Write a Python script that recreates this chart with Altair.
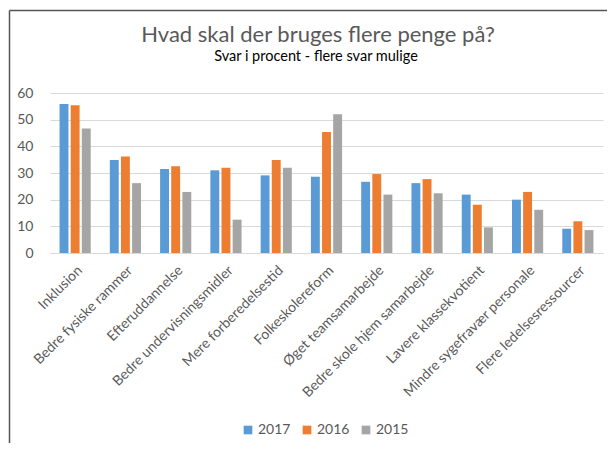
import altair as alt
import pandas as pd

categories = ["Inklusion", "Bedre fysiske rammer", "Efteruddannelse", "Bedre undervisningsmidler",
              "Mere forberedelsestid", "Folkeskolereform", "Øget teamsamarbejde",
              "Bedre skole hjem samarbejde", "Lavere klassekvotient",
              "Mindre sygefravær personale", "Flere ledelsesressourcer"]
years = ["2017", "2016", "2015"]
v2017 = [55.9, 34.9, 31.5, 31.0, 29.1, 28.6, 26.7, 26.2, 21.9, 20.0, 9.1]
v2016 = [55.4, 36.2, 32.5, 32.0, 34.9, 45.4, 29.6, 27.7, 18.1, 22.9, 11.9]
v2015 = [46.7, 26.2, 22.9, 12.5, 32.0, 52.0, 21.9, 22.4, 9.6, 16.2, 8.6]
colors = ["#5B9BD5", "#ED7D31", "#A5A5A5"]
title_text = "Hvad skal der bruges flere penge på?"
subtitle_text = "Svar i procent - flere svar mulige"

rows = []
for yr, vals in zip(years, [v2017, v2016, v2015]):
    for c, v in zip(categories, vals):
        rows.append({"kategori": c, "år": yr, "procent": v})
df = pd.DataFrame(rows)

FONT = "Lato"

bars = alt.Chart(df).mark_bar().encode(
    x=alt.X("kategori:N", sort=categories, title=None,
            scale=alt.Scale(paddingInner=0.38, paddingOuter=0.19),
            axis=alt.Axis(labelAngle=-45, labelFontSize=14, labelColor="#595959",
                          labelFont=FONT, ticks=False, domainColor="#D9D9D9",
                          labelPadding=10, labelLimit=300)),
    xOffset=alt.XOffset("år:N", sort=years, scale=alt.Scale(paddingInner=0.2)),
    y=alt.Y("procent:Q", title=None, scale=alt.Scale(domain=[0, 60], nice=False),
            axis=alt.Axis(values=[0, 10, 20, 30, 40, 50, 60], labelFontSize=14,
                          labelColor="#595959", labelFont=FONT, ticks=False,
                          domain=False, gridColor="#D9D9D9", labelPadding=17)),
    color=alt.Color("år:N", sort=years,
                    scale=alt.Scale(domain=years, range=colors),
                    legend=alt.Legend(title=None, orient="none", direction="horizontal",
                                      legendX=191, legendY=330, symbolType="square",
                                      symbolSize=75, symbolStrokeWidth=0,
                                      labelFontSize=14, labelColor="#595959",
                                      labelFont=FONT, columnPadding=9, symbolOffset=0,
                                      labelOffset=3)),
)

one = alt.Data(values=[{"a": 1}])
left_border = alt.Chart(one).mark_rule(color="#555555", strokeWidth=1.5).encode(
    x=alt.value(-40.5), y=alt.value(-82.5), y2=alt.value(400))
top_border = alt.Chart(one).mark_rule(color="#555555", strokeWidth=1.5).encode(
    x=alt.value(-40.5), x2=alt.value(600), y=alt.value(-82.5))
title_mark = alt.Chart(one).mark_text(fontSize=22, font=FONT, color="#595959",
                                      baseline="alphabetic", align="center").encode(
    x=alt.value(268), y=alt.value(-51), text=alt.value(title_text))
subtitle_mark = alt.Chart(one).mark_text(fontSize=14.5, font=FONT, color="#000000",
                                         baseline="alphabetic", align="center").encode(
    x=alt.value(266), y=alt.value(-32), text=alt.value(subtitle_text))

chart = alt.layer(bars, left_border, top_border, title_mark, subtitle_mark).properties(
    width=553, height=160,
    padding={"left": 42, "top": 85, "right": 4, "bottom": 190},
    autosize=alt.AutoSizeParams(type="none"),
).configure_view(stroke=None)

chart.save("out.html", embed_options={"renderer": "svg", "actions": False})
